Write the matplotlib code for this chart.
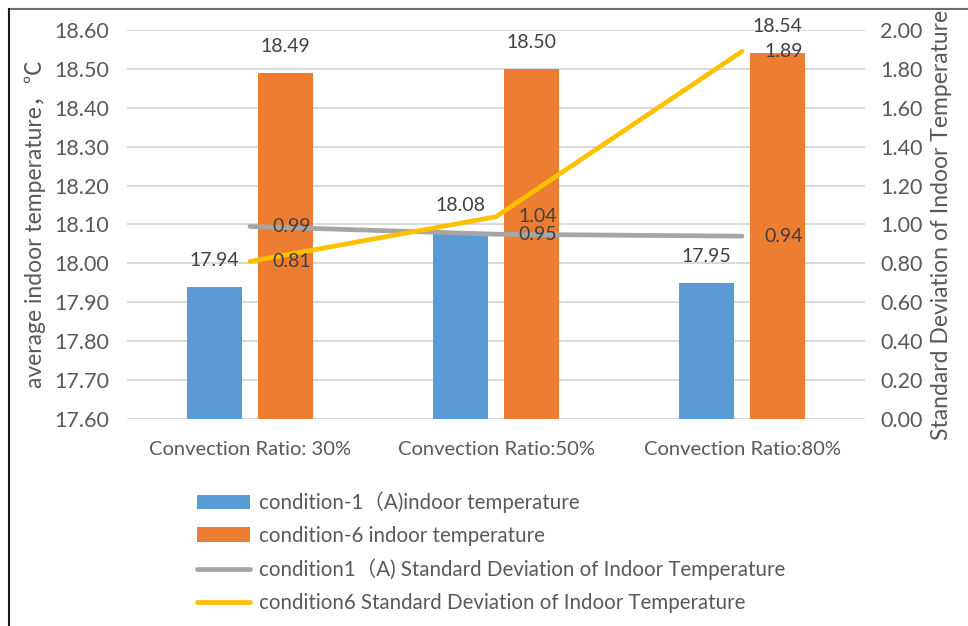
import numpy as np
import matplotlib
matplotlib.use("Agg")
import matplotlib.pyplot as plt
from matplotlib.lines import Line2D

plt.rcParams['font.family'] = ['Lato', 'Noto Sans CJK SC', 'DejaVu Sans']

categories = ['Convection Ratio: 30%', 'Convection Ratio:50%', 'Convection Ratio:80%']
temp_c1 = [17.94, 18.08, 17.95]
temp_c6 = [18.49, 18.50, 18.54]
std_c1 = [0.99, 0.95, 0.94]
std_c6 = [0.81, 1.04, 1.89]

labels = ['condition-1（A)indoor temperature',
          'condition-6 indoor temperature',
          'condition1（A) Standard Deviation of Indoor Temperature',
          'condition6 Standard Deviation of Indoor Temperature']

blue = '#5B9BD5'
orange = '#ED7D31'
grey = '#A5A5A5'
yellow = '#FFC000'
txt = '#595959'
lbl = '#404040'

fig = plt.figure(figsize=(9.68, 6.26), dpi=100)
ax = fig.add_axes([0.1312, 0.3307, 0.7624, 0.6214])
ax2 = ax.twinx()

x = np.arange(len(categories))
w = 0.224
off = 0.144
b1 = ax.bar(x - off, temp_c1, w, color=blue, zorder=2)
b2 = ax.bar(x + off, temp_c6, w, color=orange, zorder=2)

ax.set_ylim(17.6, 18.6)
ax.set_yticks(np.arange(17.6, 18.61, 0.1))
ax.yaxis.set_major_formatter(matplotlib.ticker.FormatStrFormatter('%.2f'))
ax.set_xlim(-0.5, 2.5)
ax.set_xticks(x)
ax.set_xticklabels(categories)
ax.grid(axis='y', color='#D9D9D9', linewidth=1.4, zorder=0)
ax.set_axisbelow(True)

l1, = ax2.plot(x, std_c1, color=grey, linewidth=3.4, solid_capstyle='round', zorder=3)
l2, = ax2.plot(x, std_c6, color=yellow, linewidth=3.4, solid_capstyle='round', zorder=3)
ax2.set_ylim(0, 2)
ax2.set_yticks(np.arange(0, 2.01, 0.2))
ax2.yaxis.set_major_formatter(matplotlib.ticker.FormatStrFormatter('%.2f'))

for a in (ax, ax2):
    for s in a.spines.values():
        s.set_visible(False)
    a.tick_params(length=0, labelsize=15.5, colors=txt)
ax.tick_params(axis='y', pad=13)
ax.tick_params(axis='x', pad=16, labelsize=14.5)
ax2.tick_params(axis='y', pad=11)

# value labels
for xi, v in zip(x - off, temp_c1):
    ax.annotate(f'{v:.2f}', (xi, v), xytext=(0, 19), textcoords='offset points',
                ha='center', va='center', fontsize=14, color=lbl)
for xi, v in zip(x + off, temp_c6):
    ax.annotate(f'{v:.2f}', (xi, v), xytext=(0, 19), textcoords='offset points',
                ha='center', va='center', fontsize=14, color=lbl)
for series in (std_c1, std_c6):
    for xi, v in zip(x, series):
        ax2.annotate(f'{v:.2f}', (xi, v), xytext=(16, 0), textcoords='offset points',
                     ha='left', va='center', fontsize=14, color=lbl, zorder=5)

ax.set_ylabel('average indoor temperature，℃', fontsize=16.5, color=txt, labelpad=6)
ax2.set_ylabel('Standard Deviation of Indoor Temperature', fontsize=16.5, color=txt,
               labelpad=6, rotation=90)

fig.legend([b1, b2, l1, l2], labels, loc='upper left', bbox_to_anchor=(0.195, 0.228),
           frameon=False, fontsize=14.8, labelcolor=txt, handlelength=2.6,
           handletextpad=0.4, labelspacing=0.62, borderaxespad=0)

# outer frame
fig.add_artist(Line2D([0.0093, 1.0], [0.9864, 0.9864], transform=fig.transFigure,
                      color='#6E6E6E', linewidth=1.5))
fig.add_artist(Line2D([0.0093, 0.0093], [0.0, 0.9864], transform=fig.transFigure,
                      color='#1A1A1A', linewidth=1.5))

fig.savefig('out.png', dpi=100)
